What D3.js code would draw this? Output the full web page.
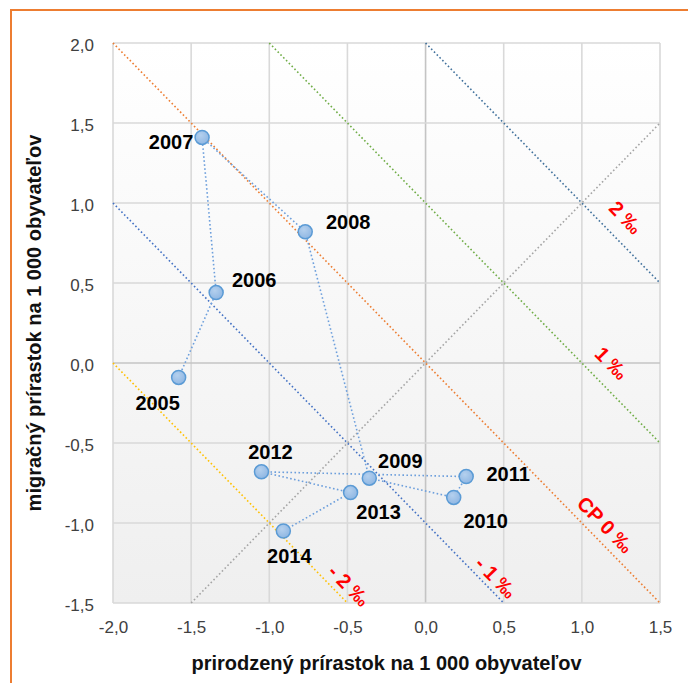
<!DOCTYPE html>
<html>
<head>
<meta charset="utf-8">
<script src="https://cdn.jsdelivr.net/npm/d3@7"></script>
<style>
  html, body { margin: 0; padding: 0; background: #fff; }
  svg { display: block; }
</style>
</head>
<body>
<svg id="chart" width="688" height="683"></svg>
<script>
// ---- data ----
const years = [2005, 2006, 2007, 2008, 2009, 2010, 2011, 2012, 2013, 2014];
const naturalIncrease = [-1.58, -1.34, -1.43, -0.77, -0.36, 0.18, 0.26, -1.05, -0.48, -0.91];
const migrationIncrease = [-0.09, 0.44, 1.41, 0.82, -0.72, -0.84, -0.71, -0.68, -0.81, -1.05];

const xTicks = [-2.0, -1.5, -1.0, -0.5, 0.0, 0.5, 1.0, 1.5];
const yTicks = [-1.5, -1.0, -0.5, 0.0, 0.5, 1.0, 1.5, 2.0];

// total increase isolines (x + y = level)
const isoLevels = [2, 1, 0, -1, -2];
const isoLabels = ["2 ‰", "1 ‰", "CP 0 ‰", "- 1 ‰", "- 2 ‰"];
const isoLabelAt = [[1.28, 0.91], [1.19, 0.0], [1.15, -1.01], [0.45, -1.34], [-0.49, -1.39]];

const xTitle = "prirodzený prírastok na 1 000 obyvateľov";
const yTitle = "migračný prírastok na 1 000 obyvateľov";

// ---- styles ----
const isoColors = ["#41719C", "#70AD47", "#ED7D31", "#4472C4", "#FFC000"];
const labelOffsets = [[-21, 25], [38, -13], [-31, 4], [43, -10], [31, -17], [32, 23], [42, -3], [9, -20], [28, 19], [6, 25]];

const svg = d3.select("#chart");
const W = 688, H = 683;
const m = { left: 113, right: 28, top: 43, bottom: 80 };
const x = d3.scaleLinear().domain([-2, 1.5]).range([m.left, W - m.right]);
const y = d3.scaleLinear().domain([-1.5, 2]).range([H - m.bottom, m.top]);

const defs = svg.append("defs");
const grad = defs.append("linearGradient").attr("id", "bg").attr("x1", 0).attr("y1", 0).attr("x2", 0).attr("y2", 1);
grad.append("stop").attr("offset", "0%").attr("stop-color", "#ffffff");
grad.append("stop").attr("offset", "100%").attr("stop-color", "#efefef");
const pg = defs.append("radialGradient").attr("id", "pt").attr("cx", "40%").attr("cy", "35%").attr("r", "70%");
pg.append("stop").attr("offset", "0%").attr("stop-color", "#b4d0ee");
pg.append("stop").attr("offset", "100%").attr("stop-color", "#8db5e2");

// outer frame
svg.append("rect").attr("x", 11).attr("y", 10).attr("width", 720).attr("height", 720)
  .attr("fill", "none").attr("stroke", "#ED7D31").attr("stroke-width", 2);

// plot background
svg.append("rect").attr("x", x(-2)).attr("y", y(2)).attr("width", x(1.5) - x(-2)).attr("height", y(-1.5) - y(2))
  .attr("fill", "url(#bg)");

// grid
const grid = svg.append("g");
grid.selectAll(".gx").data(xTicks).join("line")
  .attr("x1", d => x(d)).attr("x2", d => x(d)).attr("y1", y(-1.5)).attr("y2", y(2))
  .attr("stroke", d => d === 0 ? "#c4c4c4" : "#d9d9d9").attr("stroke-width", 1.6);
grid.selectAll(".gy").data(yTicks).join("line")
  .attr("y1", d => y(d)).attr("y2", d => y(d)).attr("x1", x(-2)).attr("x2", x(1.5))
  .attr("stroke", d => d === 0 ? "#c4c4c4" : "#d9d9d9").attr("stroke-width", 1.6);

// axes tick labels
const fmt = d => d3.format(".1f")(d).replace(".", ",").replace("−", "-");
const xAxis = d3.axisBottom(x).tickValues(xTicks).tickFormat(fmt).tickSize(0).tickPadding(18);
const yAxis = d3.axisLeft(y).tickValues(yTicks).tickFormat(fmt).tickSize(0).tickPadding(19);
const gx = svg.append("g").attr("transform", `translate(0,${y(-1.5)})`).call(xAxis);
const gy = svg.append("g").attr("transform", `translate(${x(-2)},0)`).call(yAxis);
[gx, gy].forEach(g => {
  g.select(".domain").remove();
  g.selectAll("text").attr("font-family", "Liberation Sans, Arial, sans-serif").attr("font-size", 17).attr("fill", "#404040");
});
gy.selectAll("text").attr("dy", "0.42em");

// diagonal y = x (gray)
const domX = x.domain(), domY = y.domain();
function clipIso(c, slope) {
  // line y = slope*x + c within domain
  const pts = [];
  [domX[0], domX[1]].forEach(xv => { const yv = slope * xv + c; if (yv >= domY[0] - 1e-9 && yv <= domY[1] + 1e-9) pts.push([xv, yv]); });
  [domY[0], domY[1]].forEach(yv => { const xv = (yv - c) / slope; if (xv >= domX[0] - 1e-9 && xv <= domX[1] + 1e-9) pts.push([xv, yv]); });
  pts.sort((a, b) => a[0] - b[0]);
  return [pts[0], pts[pts.length - 1]];
}
const lineGen = d3.line().x(d => x(d[0])).y(d => y(d[1]));
svg.append("path").attr("d", lineGen(clipIso(0, 1)))
  .attr("fill", "none").attr("stroke", "#A5A5A5").attr("stroke-width", 1.6).attr("stroke-dasharray", "1.6,2.4");

isoLevels.forEach((lv, i) => {
  svg.append("path").attr("d", lineGen(clipIso(lv, -1)))
    .attr("fill", "none").attr("stroke", isoColors[i]).attr("stroke-width", 1.6).attr("stroke-dasharray", "1.6,2.4");
});

// connecting line
const pts = years.map((yr, i) => [naturalIncrease[i], migrationIncrease[i]]);
svg.append("path").attr("d", lineGen(pts))
  .attr("fill", "none").attr("stroke", "#6d9fdc").attr("stroke-width", 1.6).attr("stroke-dasharray", "1.6,2.4");

// points
svg.selectAll(".pt").data(pts).join("circle")
  .attr("cx", d => x(d[0])).attr("cy", d => y(d[1])).attr("r", 7)
  .attr("fill", "url(#pt)").attr("stroke", "#5B9BD5").attr("stroke-width", 1.5);

// year labels
svg.selectAll(".yl").data(years).join("text")
  .attr("x", (d, i) => x(naturalIncrease[i]) + labelOffsets[i][0])
  .attr("y", (d, i) => y(migrationIncrease[i]) + labelOffsets[i][1])
  .attr("text-anchor", "middle").attr("dy", "0.36em")
  .attr("font-family", "Liberation Sans, Arial, sans-serif").attr("font-weight", "bold").attr("font-size", 20)
  .attr("fill", "#000").text(d => d);

// iso labels
const ang = Math.atan2(y(-1) - y(0), x(1) - x(0)) * 180 / Math.PI;
svg.selectAll(".il").data(isoLabels).join("text")
  .attr("transform", (d, i) => `translate(${x(isoLabelAt[i][0])},${y(isoLabelAt[i][1])}) rotate(${ang})`)
  .attr("text-anchor", "middle").attr("dy", "0.36em")
  .attr("font-family", "Liberation Sans, Arial, sans-serif").attr("font-weight", "bold").attr("font-size", 20)
  .attr("fill", "#FF0000").text(d => d);

// axis titles
svg.append("text").attr("x", (x(-2) + x(1.5)) / 2).attr("y", 670).attr("text-anchor", "middle")
  .attr("font-family", "Liberation Sans, Arial, sans-serif").attr("font-weight", "bold").attr("font-size", 20)
  .attr("fill", "#111").text(xTitle);
svg.append("text").attr("transform", `translate(41,${(y(-1.5) + y(2)) / 2}) rotate(-90)`).attr("text-anchor", "middle")
  .attr("font-family", "Liberation Sans, Arial, sans-serif").attr("font-weight", "bold").attr("font-size", 20)
  .attr("fill", "#111").text(yTitle);
</script>
</body>
</html>
